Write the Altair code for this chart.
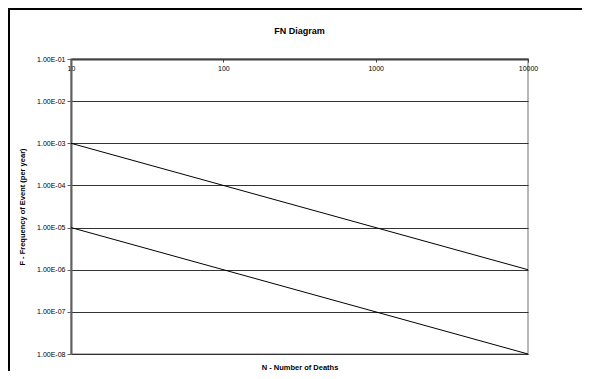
import altair as alt
import pandas as pd

# Data
N = [10, 10000]
F_upper = [1e-3, 1e-6]
F_lower = [1e-5, 1e-8]
y_ticks = [1e-1, 1e-2, 1e-3, 1e-4, 1e-5, 1e-6, 1e-7, 1e-8]
x_ticks = [10, 100, 1000, 10000]
chart_title = "FN Diagram"

rows = []
for n, f in zip(N, F_upper):
    rows.append({"N": n, "F": f, "series": "upper"})
for n, f in zip(N, F_lower):
    rows.append({"N": n, "F": f, "series": "lower"})
df = pd.DataFrame(rows)

W, H = 457, 295
FONT = "Liberation Sans"

x_enc = alt.X(
    "N:Q",
    scale=alt.Scale(type="log", domain=[10, 10000], nice=False),
    axis=alt.Axis(
        orient="bottom", offset=-H, values=x_ticks, format="d",
        labelFontSize=7, labelFont=FONT, labelColor="black", labelPadding=2,
        labelFlush=False,
        tickSize=3, tickColor="#404040", domainColor="#404040", domainWidth=2,
        grid=False,
        title="N - Number of Deaths", titleFontSize=7.5, titleFont=FONT,
        titleFontWeight="bold", titleColor="black",
        titleX=W / 2, titleY=308, titleBaseline="middle", titleAlign="center",
    ),
)

y_enc = alt.Y(
    "F:Q",
    scale=alt.Scale(type="log", domain=[1e-8, 1e-1], nice=False),
    axis=alt.Axis(
        values=y_ticks,
        labelExpr="'1.00E-0' + round(-log(datum.value) / LN10)",
        labelFontSize=7, labelFont=FONT, labelColor="black", labelPadding=2,
        labelFlush=False,
        tickSize=4, tickColor="#606060", domainColor="#606060", domainWidth=2,
        grid=True, gridColor="#333333", gridWidth=1,
        title="F - Frequency of Event (per year)", titleFontSize=7.5,
        titleFont=FONT, titleFontWeight="bold", titleColor="black",
        titlePadding=10,
    ),
)

lines = alt.Chart(df).mark_line(color="black", strokeWidth=1).encode(
    x=x_enc, y=y_enc, detail="series:N"
)

one = alt.Data(values=[{"a": 1}])
border_left = alt.Chart(one).mark_rule(color="black", strokeWidth=2).encode(
    x=alt.value(-62), y=alt.value(-51), y2=alt.value(330)
)
border_top = alt.Chart(one).mark_rule(color="black", strokeWidth=2).encode(
    x=alt.value(-63), x2=alt.value(520), y=alt.value(-50)
)
title_text = alt.Chart(one).mark_text(
    font=FONT, fontSize=9, fontWeight="bold", color="black",
    align="center", baseline="middle",
).encode(x=alt.value(W / 2), y=alt.value(-28), text=alt.value(chart_title))

chart = alt.layer(lines, border_left, border_top, title_text).properties(
    width=W, height=H,
    autosize=alt.AutoSizeParams(type="none"),
    padding={"left": 63, "top": 51, "right": 54, "bottom": 17},
).configure_view(stroke="#b8b8b8", strokeWidth=2)

chart.save("out.html", embed_options={"renderer": "svg", "actions": False})
